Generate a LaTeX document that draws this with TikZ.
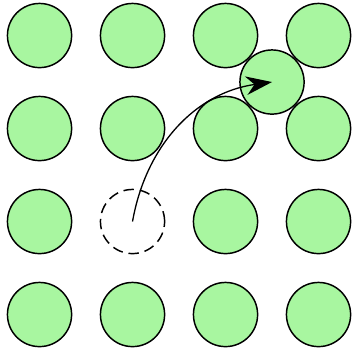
\documentclass[tikz,border=0pt]{standalone}
\usepackage{xcolor}
\usepackage{tikz}
\usetikzlibrary{arrows.meta, positioning}

\definecolor{atomgreen}{RGB}{168,246,160}

\begin{document}
\begin{tikzpicture}[
    atom/.style={circle, draw=black, line width=0.45pt, fill=atomgreen,
      minimum size=0.69cm, inner sep=0pt},
    vacancy/.style={circle, draw=black, line width=0.45pt, dash pattern=on 3.2pt off 1.8pt,
      minimum size=0.69cm, inner sep=0pt}]
  \useasboundingbox (-0.425,-0.392) rectangle (3.36,3.382);

  % ---- Lattice: 4x4 atoms, site (1,1) left empty ----
  \foreach \i in {0,...,3}
    \foreach \j in {0,...,3}
    {
      \ifnum\i\j=11 \else
        \node[atom] (a\i\j) at (\i,\j) {};
      \fi
    }

  % ---- Vacancy and interstitial ----
  \node[vacancy] (vac) at (1,1) {};
  \node[atom] (int) at (2.5,2.5) {};

  % jump of the atom into the interstitial site
  \draw[line width=0.4pt, -{Stealth[length=0.28cm, width=0.2cm, inset=0.09cm]}]
    (vac.center) to[out=80, in=188] (int.center);
\end{tikzpicture}
\end{document}
